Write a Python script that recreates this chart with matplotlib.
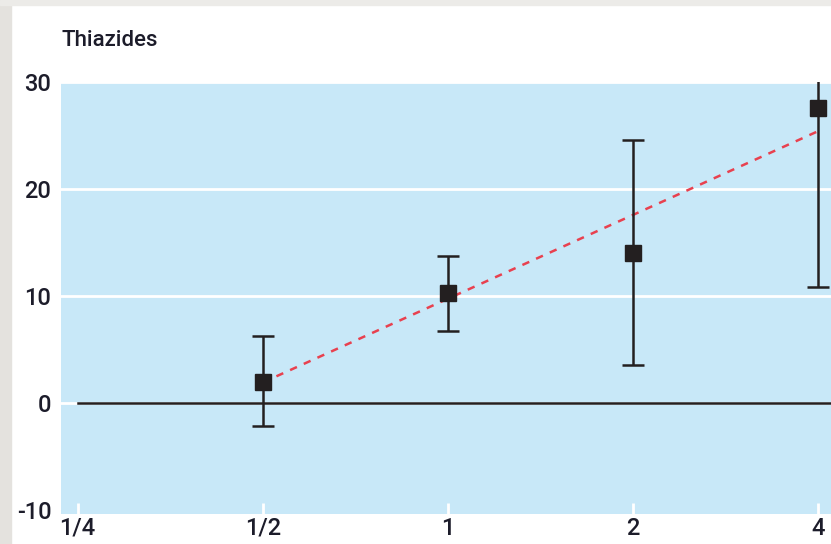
import matplotlib.pyplot as plt
from matplotlib.patches import Rectangle

# datos
doses = [0.5, 1, 2, 4]
means = [1.9, 10.3, 14.0, 27.6]
lower = [-2.2, 6.7, 3.55, 10.8]
upper = [6.2, 13.7, 24.6, 45.0]
fit_x = [0.5, 4]
fit_y = [1.9, 25.4]
xticks = [0.25, 0.5, 1, 2, 4]
xlabels = ['1/4', '1/2', '1', '2', '4']
yticks = [-10, 0, 10, 20, 30]

plt.rcParams['font.family'] = ['Roboto', 'DejaVu Sans']
plt.rcParams['font.weight'] = 'medium'
plt.rcParams['axes.unicode_minus'] = False

fig = plt.figure(figsize=(8.31, 5.44), dpi=100)
fig.patch.set_facecolor('white')
# marco gris de la captura
fig.patches.append(Rectangle((0, 0), 11 / 831, 1, transform=fig.transFigure,
                             color='#e4e2de', zorder=0))
fig.patches.append(Rectangle((0, 1 - 5 / 544), 1, 5 / 544, transform=fig.transFigure,
                             color='#ecebe8', zorder=0))

ax = fig.add_axes([61 / 831, 30 / 544, 770 / 831, 432 / 544])
ax.set_facecolor('#c8e8f8')
ax.set_xscale('log', base=2)
ax.set_xlim(2 ** -2.09, 2 ** 2.07)
ax.set_ylim(-10.4, 30)

for y in yticks[1:]:
    ax.axhline(y, color='white', lw=2, zorder=1)
ax.plot([0.25, 2 ** 2.07], [0, 0], color='#231f20', lw=1.8, zorder=2)

ax.plot(fit_x, fit_y, color='#e8414f', lw=1.8, dashes=(3, 3), zorder=3)

yerr = [[m - l for m, l in zip(means, lower)], [u - m for m, u in zip(means, upper)]]
ax.errorbar(doses, means, yerr=yerr, fmt='s', color='#231f20', ms=11,
            ecolor='#231f20', elinewidth=1.8, capsize=8, capthick=1.8, zorder=4)

ax.set_xticks(xticks)
ax.set_xticklabels(xlabels)
ax.minorticks_off()
ax.set_yticks(yticks)
for s in ax.spines.values():
    s.set_visible(False)
ax.tick_params(axis='x', direction='in', length=8, width=2, color='white',
               pad=2, labelsize=17, labelcolor='#1c1c2a')
ax.tick_params(axis='y', length=0, pad=7, labelsize=17, labelcolor='#1c1c2a')

fig.text(62 / 831, 1 - 40 / 544, 'Thiazides', fontsize=16, color='#1c1c2a',
         va='center', ha='left')

fig.savefig('out.png', dpi=100)
